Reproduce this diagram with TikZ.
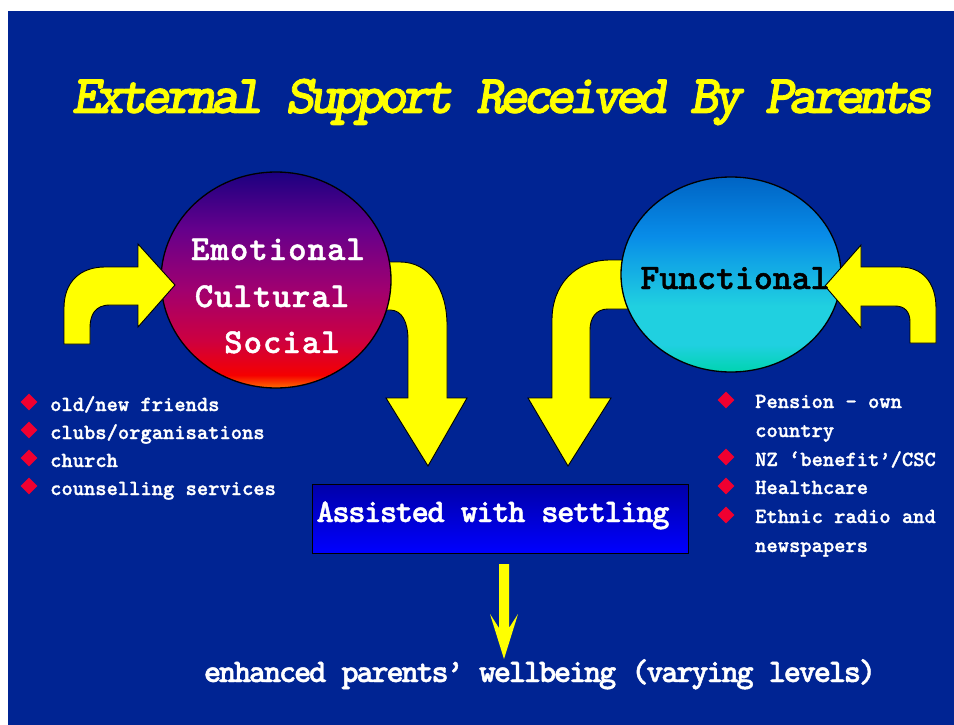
\documentclass[tikz,border=0pt]{standalone}
\usepackage{fontspec}
\usetikzlibrary{shapes.geometric}

% slab-serif typewriter faces (Latin Modern Mono Light, bold, thickened)
\newfontfamily\slab[FakeBold=1.3]{lmmonolt10-bold.otf}
\newfontfamily\slabwide[FakeBold=1.3, LetterSpace=3]{lmmonolt10-bold.otf}
\newfontfamily\slabtitle[FakeBold=1.4, LetterSpace=-10.5]{lmmonolt10-boldoblique.otf}
\newfontfamily\slabbox[FakeBold=1.3, LetterSpace=-4.5]{lmmonolt10-bold.otf}
\newfontfamily\slabfoot[FakeBold=1.3, LetterSpace=-7]{lmmonolt10-bold.otf}

\definecolor{slidebg}{RGB}{0,36,147}
\definecolor{arrowyellow}{RGB}{255,255,0}
\definecolor{bulletred}{RGB}{240,0,48}
\definecolor{boxtop}{RGB}{0,0,168}
\definecolor{boxbottom}{RGB}{0,0,255}
% emotional circle colours
\definecolor{eOrange}{RGB}{255,110,0}
\definecolor{eRed}{RGB}{245,0,0}
\definecolor{eCrimson}{RGB}{205,0,64}
\definecolor{eMagenta}{RGB}{160,0,112}
\definecolor{ePurple}{RGB}{100,0,140}
\definecolor{eTop}{RGB}{28,0,128}
% functional circle colours
\definecolor{fBottom}{RGB}{0,212,176}
\definecolor{fCyan}{RGB}{32,208,224}
\definecolor{fBlue}{RGB}{8,140,232}
\definecolor{fTop}{RGB}{0,100,196}

\pgfdeclareverticalshading{emoshade}{100bp}{color(0bp)=(eOrange); color(25bp)=(eOrange); color(28bp)=(eRed); color(36bp)=(eCrimson); color(48bp)=(eMagenta); color(62bp)=(ePurple); color(75bp)=(eTop); color(100bp)=(eTop)}
\pgfdeclareverticalshading{funcshade}{100bp}{color(0bp)=(fBottom); color(25bp)=(fBottom); color(32bp)=(fCyan); color(42bp)=(fCyan); color(60bp)=(fBlue); color(75bp)=(fTop); color(100bp)=(fTop)}

\tikzset{
  bigarrow/.style={fill=arrowyellow, draw=black, line width=0.9pt, line join=miter},
  circlebox/.style={ellipse, draw=black, line width=1.3pt, inner sep=0pt},
  circtext/.style={anchor=base, text=white, inner sep=0pt, font=\slabwide\fontsize{35}{40}\selectfont},
  functext/.style={anchor=base, text=black, inner sep=0pt, font=\slab\fontsize{36}{40}\selectfont},
  bullet/.style={diamond, fill=bulletred, minimum width=17pt, minimum height=17pt, inner sep=0pt},
  itemtext/.style={anchor=base west, text=white, inner sep=0pt, font=\slab\fontsize{21.5}{26}\selectfont},
  titletext/.style={anchor=base, inner sep=0pt, font=\slabtitle\fontsize{55}{60}\selectfont},
}

\begin{document}
\begin{tikzpicture}[x=1pt,y=-1pt]
\useasboundingbox (0,0) rectangle (954,725);
\fill[white] (0,0) rectangle (954,725);
\fill[slidebg] (8,11) rectangle (954,725);

% title
\node[titletext, text=arrowyellow] (title) at (502,113) {External Support Received By Parents};

% arrows leaving the circles (drawn beneath them)
\filldraw[bigarrow] (380,262) -- (400,262) .. controls (430,262) and (447,290) .. (447,325)
  -- (447,398) -- (467,398) -- (428,466) -- (386,398) -- (408,398) -- (408,340)
  .. controls (408,322) and (402,310) .. (390,310) -- (380,310) -- cycle;
\filldraw[bigarrow] (632,260) -- (610,260) .. controls (575,260) and (552,285) .. (552,320)
  -- (552,398) -- (528,398) -- (568,466) -- (611,398) -- (590,398) -- (590,330)
  .. controls (590,318) and (596,309) .. (608,309) -- (632,309) -- cycle;

% the two circles
\node[circlebox, shading=emoshade, minimum width=230pt, minimum height=216pt] (emocircle) at (276,280) {};
\node[circlebox, shading=funcshade, minimum width=220pt, minimum height=195pt] (funccircle) at (731,274.5) {};

% arrows entering the circles (drawn on top)
\filldraw[bigarrow] (64,344) -- (64,308) .. controls (64,282) and (80,267) .. (105,267)
  -- (138,267) -- (138,244) -- (175,285) -- (138,327) -- (138,305) -- (110,305)
  .. controls (95,305) and (90,315) .. (90,328) -- (90,344) -- cycle;
\filldraw[bigarrow] (936,343) -- (936,308) .. controls (936,282) and (922,267) .. (900,267)
  -- (861,267) -- (861,245) -- (825,286) -- (861,328) -- (861,306) -- (895,306)
  .. controls (905,306) and (910,312) .. (910,322) -- (910,343) -- cycle;

% circle labels
\node[circtext] (emo) at (278,260) {Emotional};
\node[circtext] (cul) at (272,307) {Cultural};
\node[circtext] (soc) at (282,353) {Social};
\node[functext] (func) at (735,289) {Functional};

% emotional / cultural / social supports
\node[bullet] (lb1) at (29,402) {};
\node[bullet] (lb2) at (29,430) {};
\node[bullet] (lb3) at (29,458) {};
\node[bullet] (lb4) at (29,486) {};
\node[itemtext] (li1) at (50,411) {old/new friends};
\node[itemtext] (li2) at (50,439) {clubs/organisations};
\node[itemtext] (li3) at (50,467) {church};
\node[itemtext] (li4) at (50,495) {counselling services};

% functional supports
\node[bullet] (rb1) at (726,400) {};
\node[bullet] (rb2) at (726,457) {};
\node[bullet] (rb3) at (726,486) {};
\node[bullet] (rb4) at (726,515) {};
\node[itemtext] (ri1) at (755,408) {Pension - own};
\node[itemtext] (ri1b) at (755,437) {country};
\node[itemtext] (ri2) at (755,466) {NZ ‘benefit’/CSC};
\node[itemtext] (ri3) at (755,494) {Healthcare};
\node[itemtext] (ri4) at (755,523) {Ethnic radio and};
\node[itemtext] (ri4b) at (755,552) {newspapers};

% outcome box
\node[draw=black, line width=1pt, top color=boxtop, bottom color=boxbottom,
      minimum width=376pt, minimum height=69pt, inner sep=0pt] (settle) at (500,518.5) {};
\node[anchor=base, text=white, inner sep=0pt, font=\slabbox\fontsize{33}{36}\selectfont]
  (settletext) at (493,522) {Assisted with settling};

% final arrow and result
\coordinate (shafttop) at (504,564);
\fill[arrowyellow] (shafttop) ++(-5,0) -- ++(10,0) -- (509,628) -- (518,614) -- (504,659)
  -- (490,614) -- (499,628) -- cycle;
\node[anchor=base, text=white, inner sep=0pt, font=\slabfoot\fontsize{33}{36}\selectfont]
  (wellbeing) at (540,682) {enhanced parents’ wellbeing (varying levels)};
\end{tikzpicture}
\end{document}
